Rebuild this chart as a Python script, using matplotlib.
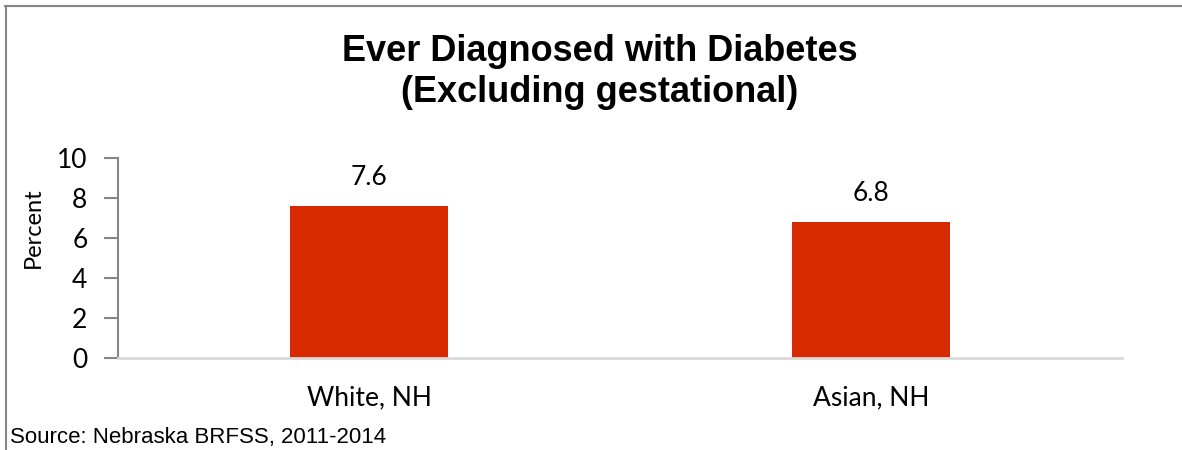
import matplotlib
matplotlib.use("Agg")
import matplotlib.pyplot as plt
from matplotlib.lines import Line2D

categories = ["White, NH", "Asian, NH"]
values = [7.6, 6.8]
yticks = [0, 2, 4, 6, 8, 10]
title = "Ever Diagnosed with Diabetes\n(Excluding gestational)"
source = "Source: Nebraska BRFSS, 2011-2014"

W, H = 1182, 450
fig = plt.figure(figsize=(W / 100, H / 100), dpi=100)

# axes placement in pixels
left, right, top, bottom = 118, 1122, 157.5, 357.5
ax = fig.add_axes([left / W, 1 - bottom / H, (right - left) / W, (bottom - top) / H])

x = list(range(len(categories)))
ax.bar(x, values, width=0.315, color="#D82A00", zorder=2)
ax.set_xlim(-0.5, len(categories) - 0.5)
ax.set_ylim(0, 10)
ax.set_yticks(yticks)
ax.set_yticklabels([str(t) for t in yticks], fontsize=19, family="Lato")
ax.set_xticks(x)
ax.set_xticklabels(categories, fontsize=19, family="Lato")
ax.tick_params(axis="x", length=0, pad=20)
ax.tick_params(axis="y", length=10, width=1.5, color="#868686", pad=12)
for s in ["top", "right"]:
    ax.spines[s].set_visible(False)
ax.spines["left"].set_color("#868686")
ax.spines["left"].set_linewidth(1.5)
ax.spines["bottom"].set_color("#D9D9D9")
ax.spines["bottom"].set_linewidth(2)
ax.set_ylabel("Percent", fontsize=17, family="Lato")
ax.yaxis.set_label_coords((44 - left) / (right - left), (bottom - 228) / (bottom - top))

for xi, v in zip(x, values):
    ax.annotate(f"{v}", (xi, v), xytext=(0, 11), textcoords="offset points",
                ha="center", va="bottom", fontsize=19, family="Lato")

fig.text(600 / W, 1 - 72 / H, title, ha="center", va="center", fontsize=26,
         fontweight="bold", family="Liberation Sans", linespacing=1.2)
fig.text(10 / W, 1 - 437 / H, source, ha="left", va="center", fontsize=16,
         family="Liberation Sans")

# outer frame (top and left)
fig.add_artist(Line2D([5 / W, 1], [1 - 5.5 / H, 1 - 5.5 / H], color="#868686", lw=1.5,
                      transform=fig.transFigure))
fig.add_artist(Line2D([5.5 / W, 5.5 / W], [0, 1 - 5.5 / H], color="#868686", lw=1.5,
                      transform=fig.transFigure))

fig.savefig("out.png", dpi=100)
